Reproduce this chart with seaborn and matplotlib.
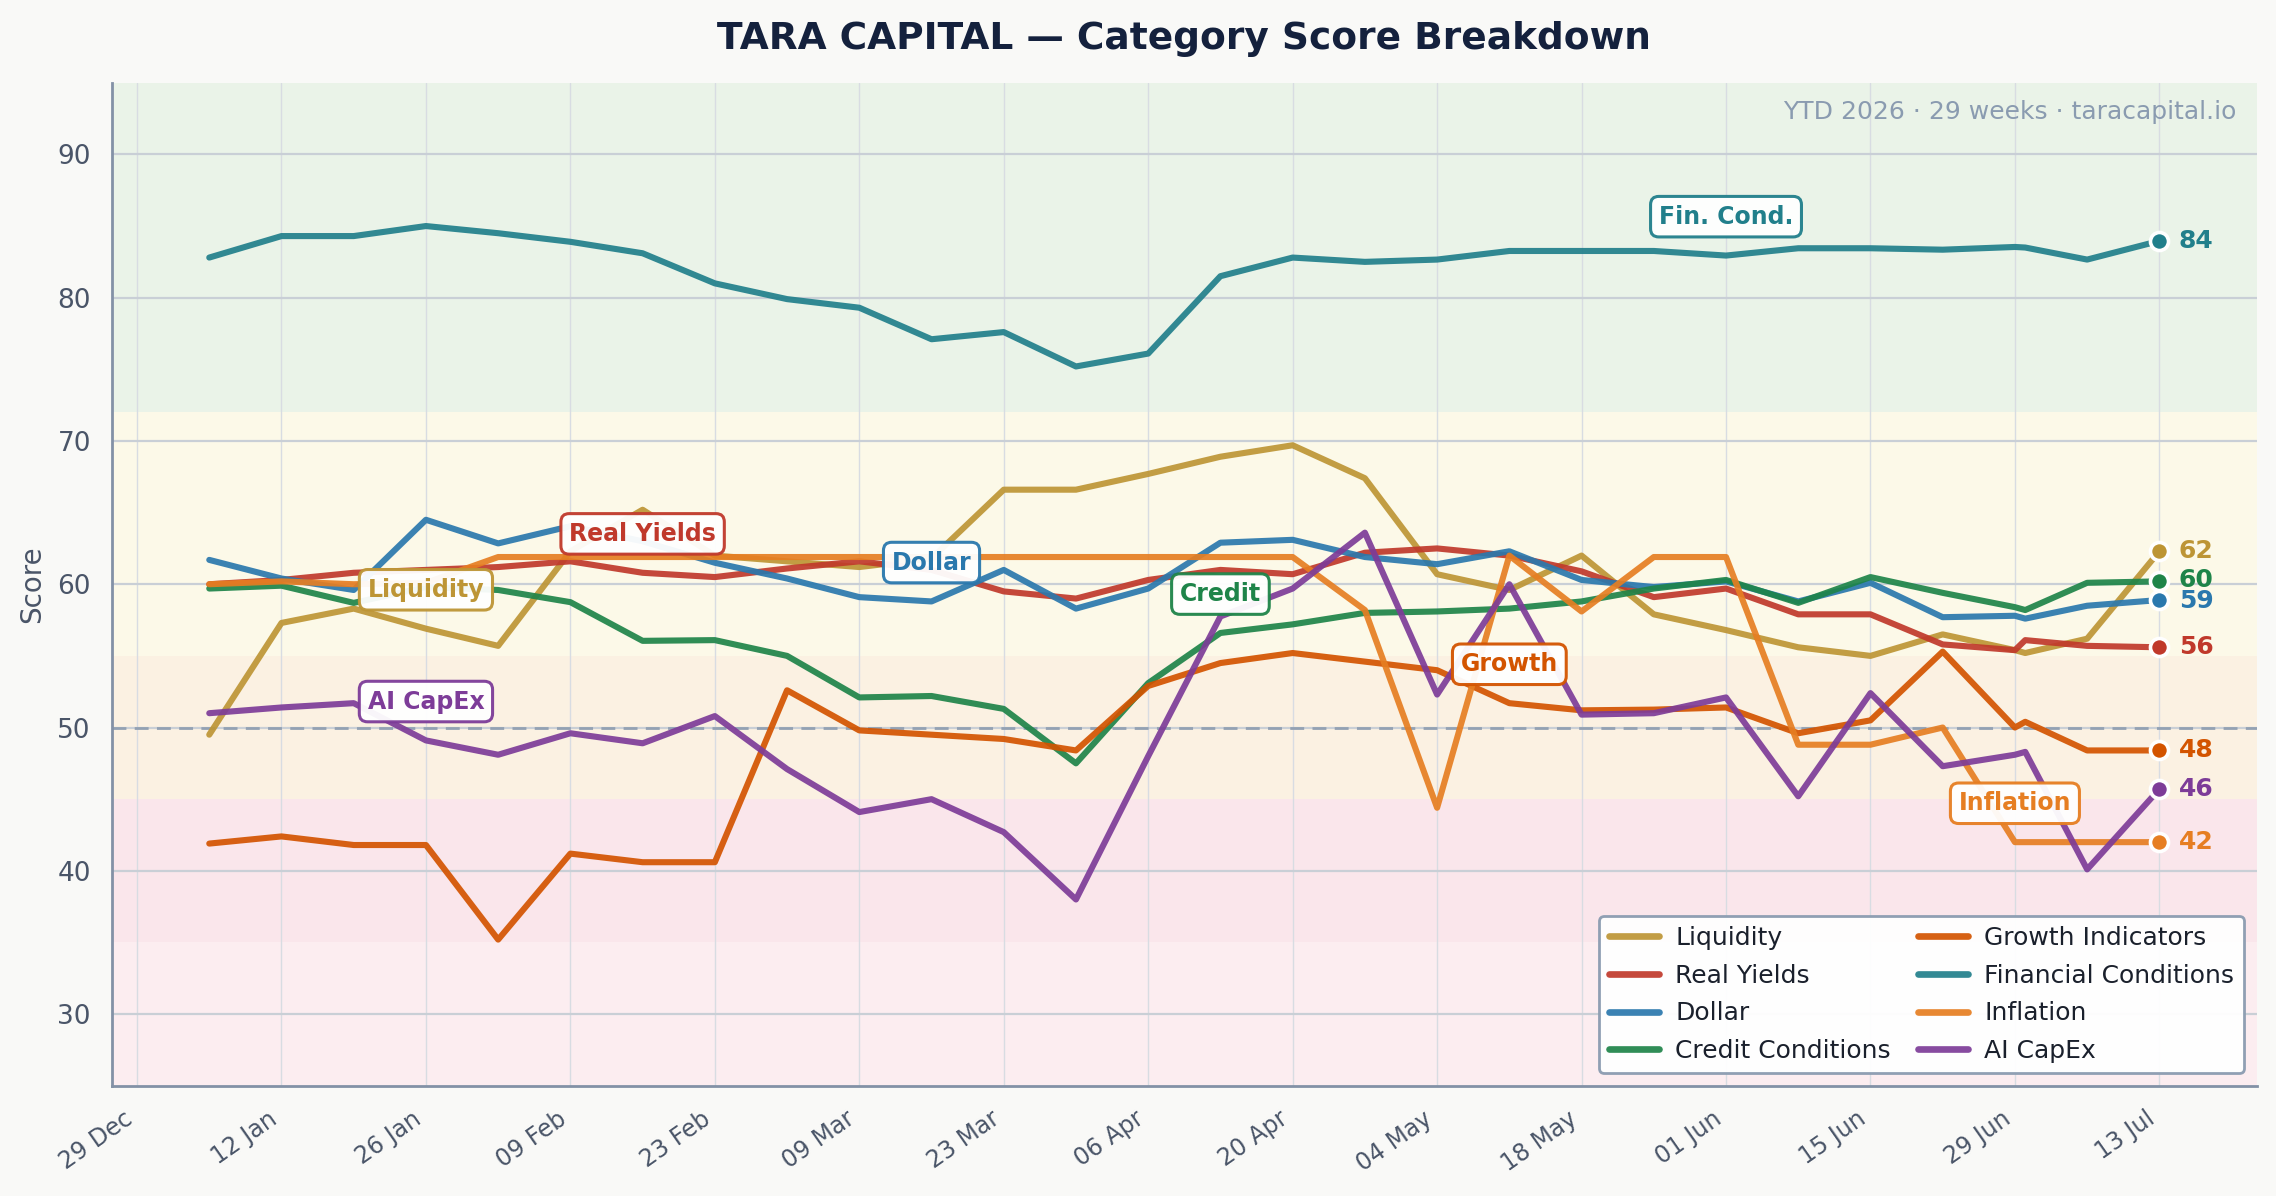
import numpy as np
import pandas as pd
import matplotlib
matplotlib.use("Agg")
import matplotlib.pyplot as plt
import matplotlib.dates as mdates
import seaborn as sns

# weekly snapshots (one extra mid-week print on 30 Jun)
dates = list(pd.date_range("2026-01-05", "2026-06-29", freq="7D")) + [
    pd.Timestamp("2026-06-30"), pd.Timestamp("2026-07-06"), pd.Timestamp("2026-07-13")]

liquidity = [49.5, 57.3, 58.3, 56.9, 55.7, 62.3, 65.2, 62.0, 61.6, 61.2, 61.8, 66.6, 66.6, 67.7, 68.9,
             69.7, 67.4, 60.7, 59.6, 62.0, 57.9, 56.8, 55.6, 55.0, 56.5, 55.4, 55.2, 56.2, 62.3]
real_yields = [60.0, 60.3, 60.8, 61.0, 61.2, 61.6, 60.8, 60.5, 61.1, 61.6, 61.0, 59.5, 59.0, 60.3, 61.0,
               60.7, 62.2, 62.5, 62.0, 60.9, 59.1, 59.7, 57.9, 57.9, 55.8, 55.4, 56.1, 55.7, 55.6]
dollar = [61.7, 60.4, 59.6, 64.5, 62.85, 64.05, 63.0, 61.5, 60.4, 59.1, 58.8, 61.0, 58.3, 59.7, 62.9,
          63.1, 61.9, 61.4, 62.3, 60.3, 59.8, 60.2, 58.8, 60.1, 57.7, 57.8, 57.6, 58.5, 58.9]
credit = [59.7, 59.9, 58.7, 59.8, 59.6, 58.75, 56.05, 56.1, 55.0, 52.1, 52.2, 51.3, 47.5, 53.1, 56.6,
          57.2, 58.0, 58.1, 58.3, 58.8, 59.7, 60.3, 58.7, 60.5, 59.4, 58.4, 58.2, 60.1, 60.2]
growth = [41.9, 42.4, 41.8, 41.8, 35.2, 41.2, 40.6, 40.6, 52.6, 49.8, 49.5, 49.2, 48.4, 52.9, 54.5,
          55.2, 54.6, 54.0, 51.7, 51.2, 51.25, 51.4, 49.6, 50.5, 55.3, 50.0, 50.4, 48.4, 48.4]
fin_cond = [82.8, 84.3, 84.3, 85.0, 84.5, 83.9, 83.1, 81.0, 79.9, 79.3, 77.1, 77.6, 75.2, 76.1, 81.5,
            82.8, 82.5, 82.66, 83.26, 83.26, 83.26, 82.94, 83.45, 83.45, 83.35, 83.54, 83.5, 82.66, 83.96]
inflation = [60.0, 60.2, 60.0, 60.1, 61.9, 61.9, 61.9, 61.9, 61.9, 61.9, 61.9, 61.9, 61.9, 61.9, 61.9,
             61.9, 58.2, 44.4, 62.0, 58.1, 61.9, 61.9, 48.8, 48.8, 50.0, 42.0, 42.0, 42.0, 42.0]
ai_capex = [51.0, 51.4, 51.7, 49.1, 48.1, 49.6, 48.9, 50.8, 47.1, 44.1, 45.0, 42.7, 38.0, 48.0, 57.75,
            59.7, 63.6, 52.3, 60.0, 50.9, 51.0, 52.1, 45.2, 52.4, 47.3, 48.1, 48.3, 40.1, 45.7]

categories = ["Liquidity", "Real Yields", "Dollar", "Credit Conditions",
              "Growth Indicators", "Financial Conditions", "Inflation", "AI CapEx"]
series = [liquidity, real_yields, dollar, credit, growth, fin_cond, inflation, ai_capex]
colors = ["#bd9535", "#c0392b", "#2a78ad", "#1e8449", "#d35400", "#217f8b", "#e67e22", "#7d3c98"]

# inline tags: category -> (short name, anchor date)
tags = {
    "Liquidity": ("Liquidity", "2026-01-26"),
    "Real Yields": ("Real Yields", "2026-02-16"),
    "Dollar": ("Dollar", "2026-03-16"),
    "Credit Conditions": ("Credit", "2026-04-13"),
    "Growth Indicators": ("Growth", "2026-05-11"),
    "Financial Conditions": ("Fin. Cond.", "2026-06-01"),
    "Inflation": ("Inflation", "2026-06-29"),
    "AI CapEx": ("AI CapEx", "2026-01-26"),
}

# regime bands (score ranges)
bands = [(25, 35, "#fcedf0"), (35, 45, "#fae6eb"), (45, 55, "#fbf1e2"),
         (55, 72, "#fcf9e8"), (72, 95, "#eaf3e8")]

df = pd.DataFrame({
    "date": np.tile(dates, len(categories)),
    "score": np.concatenate(series),
    "category": np.repeat(categories, len(dates)),
})
palette = dict(zip(categories, colors))

sns.set_style("white")
plt.rcParams["font.family"] = ["DejaVu Sans"]

fig = plt.figure(figsize=(11.38, 5.98), dpi=200, facecolor="#f9f9f7")
ax = fig.add_axes([0.0491, 0.0922, 0.9425, 0.8386])
ax.set_facecolor("white")

for lo, hi, c in bands:
    ax.axhspan(lo, hi, color=c, zorder=0, lw=0)

sns.lineplot(data=df, x="date", y="score", hue="category", hue_order=categories,
             palette=palette, lw=2.2, alpha=0.92, ax=ax)

ax.axhline(50, color="#93a1b3", lw=1.0, ls=(0, (5, 3)), zorder=1.6)

# end markers + values (nudge labels that sit too close)
last = [v[-1] for v in series]
text_y = list(last)
order = np.argsort(last)
min_gap = 1.45
for a, b in zip(order[:-1], order[1:]):
    if text_y[b] - text_y[a] < min_gap:
        mid = (text_y[a] + text_y[b]) / 2
        text_y[a], text_y[b] = mid - min_gap / 2, mid + min_gap / 2

for cat, vals, c, ty in zip(categories, series, colors, text_y):
    ax.plot([dates[-1]], [vals[-1]], "o", ms=6.5, mfc=c, mec="white", mew=1.3, zorder=5)
    ax.annotate(f"{vals[-1]:.0f}", (dates[-1], ty), xytext=(7, 0),
                textcoords="offset points", va="center", ha="left",
                fontsize=9, fontweight="bold", color=c, zorder=6)

# inline tags
for cat, (short, d) in tags.items():
    i = dates.index(pd.Timestamp(d))
    y = series[categories.index(cat)][i]
    c = palette[cat]
    ax.annotate(short, (dates[i], y), xytext=(0, 14), textcoords="offset points",
                ha="center", va="center", fontsize=8.5, fontweight="bold", color=c,
                bbox=dict(boxstyle="round,pad=0.35", fc="white", ec=c, lw=1.1, alpha=0.95),
                zorder=7)

ax.set_ylim(25, 95)
ax.set_xticks(pd.date_range("2025-12-29", "2026-07-13", freq="14D"))
ax.xaxis.set_major_formatter(mdates.DateFormatter("%d %b"))
plt.setp(ax.get_xticklabels(), rotation=35, ha="right")

ax.set_axisbelow("line")
ax.grid(axis="y", color="#c9cfd6", lw=0.8)
ax.grid(axis="x", color="#d8dce2", lw=0.5)

for s in ["top", "right"]:
    ax.spines[s].set_visible(False)
for s in ["left", "bottom"]:
    ax.spines[s].set_color("#8391a6")
    ax.spines[s].set_linewidth(1.0)
ax.tick_params(axis="both", colors="#4a5568", length=4, width=0.9)
ax.tick_params(axis="y", labelsize=9.5)
ax.tick_params(axis="x", labelsize=8.5)

ax.set_xlabel("")
ax.set_ylabel("Score", fontsize=10, color="#4a5568")
ax.set_title("TARA CAPITAL — Category Score Breakdown", fontsize=13.5,
             fontweight="bold", color="#14213d", pad=12)
ax.text(0.9907, 0.971, "YTD 2026 · 29 weeks · taracapital.io", transform=ax.transAxes,
        ha="right", va="center", fontsize=9, color="#8a9bb0")

old = ax.get_legend()
handles = old.legend_handles
labels = [t.get_text() for t in old.get_texts()]
for h in handles:
    h.set_linewidth(2.4)
leg = ax.legend(handles, labels, loc="lower right", ncol=2, fontsize=9,
                columnspacing=1.1, handletextpad=0.65, labelspacing=0.55,
                frameon=True, facecolor="white", edgecolor="#8a9bb0", framealpha=0.95)
leg.get_frame().set_linewidth(1.0)
for t in leg.get_texts():
    t.set_color("#1a202c")

fig.savefig("out.png", dpi=200, facecolor=fig.get_facecolor())
